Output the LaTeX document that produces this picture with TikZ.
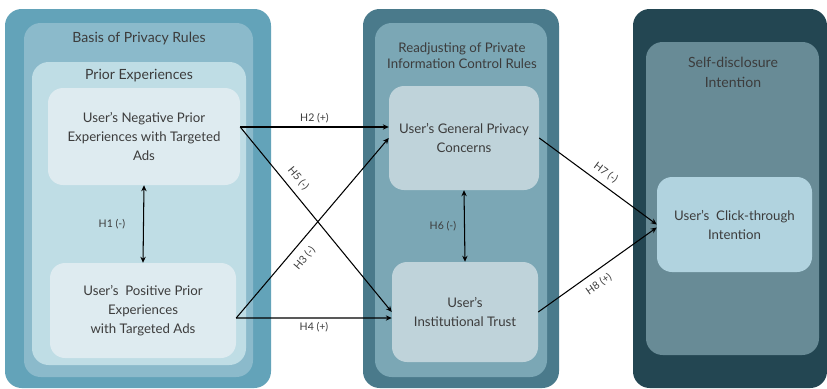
\documentclass[tikz,border=0pt]{standalone}
\usepackage{fontspec}
\setmainfont{Lato}
\usepackage{xcolor}
\usetikzlibrary{arrows.meta,positioning,calc}
\definecolor{lout}{HTML}{63A3B9}
\definecolor{lmid}{HTML}{8BBACB}
\definecolor{lin}{HTML}{BFDDE5}
\definecolor{lbox}{HTML}{DEEBF0}
\definecolor{mout}{HTML}{4A7A8B}
\definecolor{mmid}{HTML}{7BA7B5}
\definecolor{mbox}{HTML}{BFD3DA}
\definecolor{rout}{HTML}{234652}
\definecolor{rmid}{HTML}{688B96}
\definecolor{rbox}{HTML}{B1D3DF}
\definecolor{txt}{HTML}{3C3C3C}
\begin{document}
\begin{tikzpicture}[
  x=0.03cm,y=-0.03cm,
  font=\fontsize{11.3}{16.2}\selectfont,text=txt,
  pnl/.style 2 args={rectangle,rounded corners=5mm,minimum width=#1*0.03cm,minimum height=#2*0.03cm,inner sep=0pt},
  bx/.style 2 args={pnl={#1}{#2},rounded corners=4.5mm,align=center},
  ttl/.style={align=center,font=\fontsize{12}{17}\selectfont},
  hl/.style={font=\fontsize{9}{10}\selectfont,text=txt,inner sep=1pt},
  ar/.style={-{Stealth[length=1.8mm,width=1.6mm]},line width=0.9pt},
  dar/.style={{Stealth[length=1.8mm,width=1.6mm]}-{Stealth[length=1.8mm,width=1.6mm]},line width=0.9pt}
]
\useasboundingbox (0,0) rectangle (827,389);
% left column
\node[pnl={266}{379},fill=lout] (bpo) at (138,198.5) {};
\node[pnl={229}{354},fill=lmid] (bpi) at (138.5,200) {};
\node[pnl={214}{303},fill=lin] (pe) at (139,213.5) {};
\node[ttl] (bpt) at (139,39) {Basis of Privacy Rules};
\node[ttl] (pet) at (139,76) {Prior Experiences};
\node[bx={192}{97},fill=lbox] (neg) at (144,136.5) {User's Negative Prior\\Experiences with Targeted\\Ads};
\node[bx={186}{95},fill=lbox] (pos) at (143,310.5) {User's\ \ Positive Prior\\Experiences\\with Targeted Ads};
% middle column
\node[pnl={196}{379},fill=mout] (rco) at (461,198.5) {};
\node[pnl={172}{354},fill=mmid] (rci) at (461,200) {};
\node[ttl,font=\fontsize{11.3}{13.8}\selectfont] (rct) at (462,56) {Readjusting of Private\\Information Control Rules};
\node[bx={150}{104},fill=mbox] (gen) at (464,138) {User's General Privacy\\Concerns};
\node[bx={146}{100},fill=mbox] (trust) at (465,312) {User's\\Institutional Trust};
% right column
\node[pnl={194}{379},fill=rout] (sdo) at (730,198.5) {};
\node[pnl={173}{313},fill=rmid] (sdi) at (732.5,198.5) {};
\node[ttl] (sdt) at (733,72) {Self-disclosure\\Intention};
\node[bx={155}{95},fill=rbox] (click) at (734.5,224.5) {User's\ \ Click-through\\Intention};
% hypotheses
\draw[dar] (neg.south) -- node[hl,left=5mm]{H1 (-)} (pos.north);
\draw[dar] (gen.south) -- node[hl,left=2mm]{H6 (-)} (trust.north);
\draw[ar] ([yshift=0.285cm]neg.east) -- node[hl,above=2pt]{H2 (+)} ([yshift=0.33cm]gen.west);
\draw[ar] ([yshift=0.285cm]neg.east) -- node[hl,sloped,above=5pt,pos=0.32]{H5 (-)} (trust.west);
\draw[ar] ([yshift=-0.225cm]pos.east) -- node[hl,sloped,below=6pt,pos=0.38]{H3 (-)} (gen.west);
\draw[ar] ([yshift=-0.225cm]pos.east) -- node[hl,below=2pt]{H4 (+)} ([yshift=-0.18cm]trust.west);
\draw[ar] (gen.east) -- node[hl,sloped,above=4pt,pos=0.51]{H7 (-)} (click.west);
\draw[ar] (trust.east) -- node[hl,sloped,below=5pt,pos=0.45]{H8 (+)} ([yshift=-0.09cm]click.west);
\end{tikzpicture}
\end{document}
